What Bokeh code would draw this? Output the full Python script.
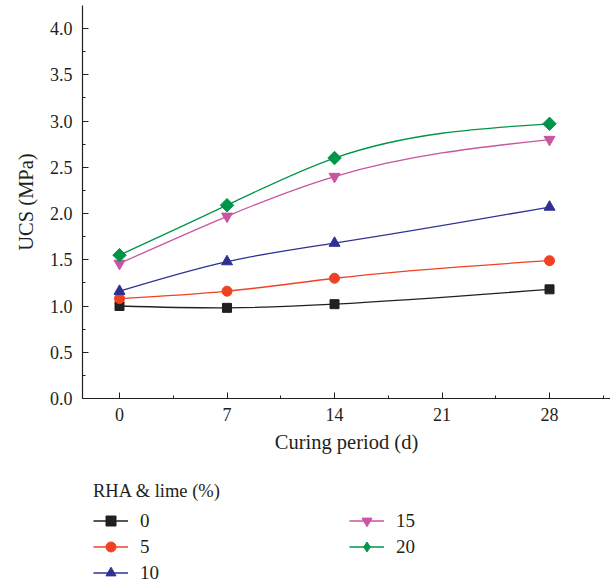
import numpy as np
from bokeh.plotting import figure
from bokeh.layouts import column
from bokeh.models import Legend, LegendItem, ColumnDataSource, FixedTicker, Range1d, CustomJSTickFormatter
from bokeh.embed import file_html
from bokeh.resources import INLINE

# ---- data ----
days = [0, 7, 14, 28]
ucs_0 = [1.00, 0.98, 1.02, 1.18]
ucs_5 = [1.08, 1.16, 1.30, 1.49]
ucs_10 = [1.16, 1.48, 1.68, 2.07]
ucs_15 = [1.46, 1.97, 2.40, 2.80]
ucs_20 = [1.55, 2.09, 2.60, 2.97]
series_labels = ["0", "5", "10", "15", "20"]
x_ticks = [0, 7, 14, 21, 28]
y_ticks = [0.0, 0.5, 1.0, 1.5, 2.0, 2.5, 3.0, 3.5, 4.0]

series = [ucs_0, ucs_5, ucs_10, ucs_15, ucs_20]
colors = ["#231f20", "#ef4123", "#2e3192", "#c8559f", "#00964a"]
# main-chart markers (the diamond is a square turned by 45 degrees) and legend markers
markers = ["square", "circle", "triangle", "inverted_triangle", "square"]
angles = [0, 0, 0, 0, np.pi / 4]
msizes = [9, 10, 11, 11, 9.5]
legend_markers = ["square", "circle", "triangle", "inverted_triangle", "diamond"]

FONT = "Liberation Serif"
TXT = "#231f20"


def spline_slopes(x, y):
    """Slopes of the natural cubic spline through the points (used to draw smooth connectors)."""
    x = np.asarray(x, float)
    y = np.asarray(y, float)
    n = len(x)
    h = np.diff(x)
    A = np.zeros((n, n))
    b = np.zeros(n)
    A[0, 0] = 1
    A[-1, -1] = 1
    for i in range(1, n - 1):
        A[i, i - 1] = h[i - 1]
        A[i, i] = 2 * (h[i - 1] + h[i])
        A[i, i + 1] = h[i]
        b[i] = 6 * ((y[i + 1] - y[i]) / h[i] - (y[i] - y[i - 1]) / h[i - 1])
    M = np.linalg.solve(A, b)
    m = np.zeros(n)
    for i in range(n - 1):
        m[i] = (y[i + 1] - y[i]) / h[i] - h[i] * (2 * M[i] + M[i + 1]) / 6
    m[-1] = (y[-1] - y[-2]) / h[-1] + h[-1] * (M[-2] + 2 * M[-1]) / 6
    return m


def add_series(fig, mks, angs, visible=True):
    out = []
    for ys, col, mk, ang, ms, lab in zip(series, colors, mks, angs, msizes, series_labels):
        x = np.asarray(days, float)
        y = np.asarray(ys, float)
        m = spline_slopes(x, y)
        h = np.diff(x)
        src = ColumnDataSource(dict(
            x0=x[:-1], y0=y[:-1], x1=x[1:], y1=y[1:],
            cx0=x[:-1] + h / 3, cy0=y[:-1] + m[:-1] * h / 3,
            cx1=x[1:] - h / 3, cy1=y[1:] - m[1:] * h / 3,
        ))
        r_line = fig.bezier(x0="x0", y0="y0", x1="x1", y1="y1", cx0="cx0", cy0="cy0",
                            cx1="cx1", cy1="cy1", source=src, line_color=col, line_width=1.3,
                            visible=visible)
        r_pts = fig.scatter(days, ys, marker=mk, angle=ang, size=ms, fill_color=col,
                            line_color=col, visible=visible)
        out.append(LegendItem(label=lab, renderers=[r_line, r_pts]))
    return out


# ---- main chart ----
p = figure(
    frame_width=528, frame_height=393,
    x_range=Range1d(-2.41, 31.97), y_range=Range1d(0, 4.249),
    min_border_left=82, min_border_right=0, min_border_top=5, min_border_bottom=72,
    output_backend="svg", toolbar_location=None,
)
p.outline_line_color = None
p.xgrid.visible = False
p.ygrid.visible = False
add_series(p, markers, angles)

for ax in (p.xaxis[0], p.yaxis[0]):
    ax.axis_line_color = TXT
    ax.axis_line_width = 1.2
    ax.major_tick_line_color = TXT
    ax.minor_tick_line_color = TXT
    ax.major_tick_in = 6
    ax.major_tick_out = 0
    ax.minor_tick_in = 3
    ax.minor_tick_out = 0
    ax.major_label_text_font = FONT
    ax.major_label_text_font_size = "18px"
    ax.major_label_text_color = TXT
    ax.axis_label_text_font = FONT
    ax.axis_label_text_font_size = "20.5px"
    ax.axis_label_text_font_style = "normal"
    ax.axis_label_text_color = TXT

p.xaxis.ticker = FixedTicker(ticks=x_ticks, minor_ticks=[3.5 + 7 * k for k in range(-1, 5)])
p.yaxis.ticker = FixedTicker(ticks=y_ticks, minor_ticks=[0.25 + 0.5 * k for k in range(9)])
p.yaxis.formatter = CustomJSTickFormatter(code="return tick.toFixed(1);")
p.xaxis.axis_label = "Curing period (d)"
p.yaxis.axis_label = "UCS (MPa)"
p.xaxis.major_label_standoff = 9
p.yaxis.major_label_standoff = 10
p.xaxis.axis_label_standoff = 7
p.yaxis.axis_label_standoff = 10

# ---- legend strip below the chart ----
q = figure(
    width=610, height=116, x_range=Range1d(0, 1), y_range=Range1d(0, 1),
    x_axis_location=None, y_axis_location=None,
    min_border_left=69, min_border_right=0, min_border_top=0, min_border_bottom=0,
    output_backend="svg", toolbar_location=None,
)
q.outline_line_color = None
q.xgrid.visible = False
q.ygrid.visible = False
leg_items = add_series(q, legend_markers, [0] * 5, visible=False)

legend = Legend(
    items=leg_items, nrows=3, location="top_left",
    title="RHA & lime (%)", title_text_font=FONT, title_text_font_size="18.5px",
    title_text_font_style="normal", title_text_color=TXT, title_standoff=6,
    label_text_font=FONT, label_text_font_size="19px", label_text_color=TXT,
    glyph_width=35, glyph_height=25, label_standoff=12, spacing=1, label_width=208,
    padding=0, margin=11, border_line_color=None, background_fill_alpha=0,
    inactive_fill_alpha=0,
)
q.add_layout(legend, "center")

layout = column(p, q, spacing=0)
open("out.html", "w").write(file_html(layout, INLINE))
